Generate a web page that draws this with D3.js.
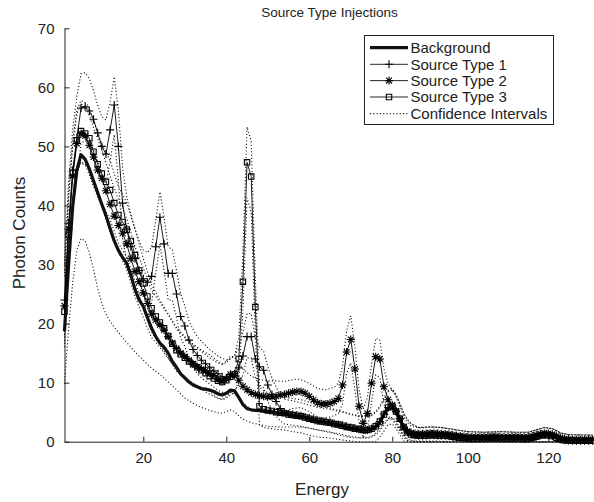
<!DOCTYPE html>
<html>
<head>
<meta charset="utf-8">
<script src="https://cdn.jsdelivr.net/npm/d3@7"></script>
<style>
    body { margin: 0; background: #fff; }
    text { font-family: "Liberation Sans", Arial, sans-serif; fill: #222; }
</style>
</head>
<body>
<div id="chart"></div>
<script>
// counts per energy bin, bins 1..85 for each curve
const backgroundHead = [18.7,30,40,46,48.6,47.8,46.2,44.2,42.2,40.2,
    38.3,36.1,34.0,32.4,31.2,30.2,28.2,25.8,24.0,22.9,
    21.0,19.2,17.8,16.7,16.0,15.0,13.6,12.6,11.5,10.8,
    10.1,9.6,9.3,9.0,8.9,8.75,8.5,8.1,7.9,8.2,
    8.75,8.6,7.5,6.3,5.6,5.4,5.3,5.25,5.2,5.15,
    5.05,4.9,4.8,4.7,4.55,4.4,4.3,4.2,4.0,3.8,
    3.6,3.45,3.35,3.25,3.1,2.95,2.8,2.65,2.45,2.3,
    2.15,2.0,1.95,1.95,2.1,2.5,3.3,4.6,5.7,5.9,
    5.0,3.8,2.4,1.5,1.1]
const source1Head = [24,37,46,51.5,56.5,56.7,56.0,54.6,52.3,50.0,
    48.7,52.8,57.0,50.0,40.4,36.0,33.0,31.0,29.0,27.6,
    27.0,28.0,33.0,38.0,33.5,28.5,28.5,25.0,21.2,19.6,
    17.2,15.6,14.6,13.8,13.2,12.6,12.0,11.5,11.0,10.8,
    11.0,11.5,12.5,14.5,17.8,17.8,14.0,12.7,12.1,9.6,
    8.0,6.8,5.6,5.0,4.7,4.6,4.5,4.4,4.2,4.0,
    3.8,3.6,3.5,3.4,3.3,3.1,2.9,2.8,2.6,2.4,
    2.3,2.1,2.0,2.0,2.2,2.6,3.4,4.7,5.8,6.0,
    5.1,3.9,2.5,1.6,1.2]
const source2Head = [23,36,45,50.5,52.2,51.8,50.2,48.2,46.0,44.6,
    42.5,40.2,38.2,36.6,35.3,33.5,31.0,28.8,27.1,25.2,
    23.4,21.6,20.6,19.8,18.9,17.8,16.7,15.8,15.0,14.4,
    13.8,13.2,12.7,12.3,12.0,11.6,11.2,10.5,10.2,10.6,
    11.4,11.2,10.4,9.4,8.8,8.3,8.0,7.8,7.7,7.6,
    7.6,7.7,7.9,8.0,8.2,8.4,8.5,8.5,8.2,7.7,
    7.1,6.6,6.4,6.4,6.5,6.8,7.3,9.6,15.2,17.3,
    12.3,6.0,3.1,4.8,9.9,14.4,14.0,9.3,7.1,6.2,
    5.2,3.9,2.5,1.8,1.5]
const source3Head = [22,35,45.5,51,52.6,52.2,51.4,49.1,47.0,45.4,
    44.0,42.6,40.4,38.4,37.2,35.9,34.0,31.6,29.0,26.8,
    24.6,22.6,21.2,20.2,19.2,17.9,16.6,15.5,14.8,14.2,
    13.6,13.1,12.6,12.1,11.6,11.1,10.7,10.3,10.1,10.4,
    11.0,11.4,14.0,27.1,47.3,44.9,22.8,6.0,5.5,5.3,
    5.2,5.0,4.9,4.8,4.6,4.5,4.4,4.3,4.1,3.9,
    3.7,3.5,3.4,3.3,3.2,3.0,2.9,2.7,2.5,2.4,
    2.2,2.1,2.0,2.0,2.2,2.6,3.4,4.6,5.8,6.0,
    5.1,3.9,2.5,1.6,1.2]
// bins 86..131: background, type 1 and type 3 share one tail, type 2 sits a little higher
const tailCounts = [1.1,1.0,1.0,1.05,1.1,1.1,1.05,1.0,1.0,0.95,
    0.85,0.75,0.65,0.6,0.55,0.5,0.5,0.5,0.55,0.55,
    0.6,0.6,0.55,0.5,0.5,0.55,0.55,0.5,0.45,0.5,
    0.65,0.85,1.05,1.15,1.1,0.95,0.65,0.4,0.25,0.2,
    0.15,0.15,0.15,0.15,0.15,0.15]
const tailCounts2 = [1.4,1.35,1.35,1.4,1.45,1.45,1.4,1.35,1.3,1.25,
    1.15,1.05,0.95,0.9,0.85,0.8,0.8,0.8,0.85,0.85,
    0.9,0.9,0.85,0.8,0.8,0.85,0.85,0.8,0.75,0.8,
    0.95,1.15,1.35,1.45,1.4,1.25,0.95,0.7,0.5,0.4,
    0.35,0.35,0.35,0.35,0.35,0.35]

// confidence bounds as [energy, count]
const backgroundLo = [[1,9.8],[2,19],[3,27],[4,32.5],[5,34.4],[6,34],[7,32],[8,29.2],[9,26],[10,23.4],[11,21.6],[12,20.4],[13,19.4],[14,18.5],[16,16.8],[18,15.2],[20,13.8],[22,12.4],[24,11.4],[26,10.1],[28,8.8],[30,7.4],[32,6.5],[34,5.8],[36,5.3],[38,4.9],[39,4.8],[40,5.1],[41,5.4],[42,5.1],[43,4.4],[44,3.8],[46,3.2],[48,2.9],[50,2.6],[53,2.5],[58,2.5],[60,2.3],[62,2.0],[64,1.7],[66,1.4],[68,1.0],[70,0.7],[72,0.6],[74,0.7],[75,0.9],[76,1.4],[77,2.2],[78,3.2],[79,3.9],[80,4.1],[81,3.5],[82,2.3],[83,1.2],[84,0.5],[85,0.2],[87,0.1]]
const source1Hi = [[1,30],[2,44],[3,53],[4,58.5],[5,62.3],[6,62.5],[7,61.5],[8,59.5],[9,57],[10,55],[11,54.5],[12,57.5],[13,61.8],[14,56],[15,46.5],[16,41.5],[17,38.5],[18,36],[19,34],[20,32.5],[21,32],[22,33],[23,37.5],[24,42.3],[25,38],[26,33],[27,32.5],[28,29],[29,25],[30,23],[31,20.5],[32,19],[33,17.8],[34,17],[36,15.6],[38,14.5],[40,13.8],[41,14],[42,14.6],[43,15.8],[44,18.5],[45,21.7],[46,21.7],[47,17.5],[48,16],[49,15.3],[50,12.7],[51,10.8],[52,9.3],[53,7.9],[54,7.2],[56,6.9],[58,6.6],[60,6.2],[62,5.8],[64,5.6],[66,5.3],[68,5.0],[70,4.6],[72,4.3],[74,4.2],[75,4.4],[76,4.9],[77,5.8],[78,7.2],[79,8.5],[80,8.8],[81,7.8],[82,6.4],[83,4.8],[84,3.7],[85,3.0],[87,2.4]]
const source1Lo = [[1,18],[2,30],[3,39],[4,45],[5,50.5],[6,51],[7,50.5],[8,49.5],[9,47.5],[10,45],[11,43.5],[12,47.5],[13,52],[14,44],[15,34.5],[16,30.5],[17,28],[18,26],[19,24.3],[20,23],[21,22.5],[22,23.5],[23,28.5],[24,33.5],[25,29],[26,24],[27,24],[28,21],[29,17.5],[30,16.2],[31,14],[32,12.5],[33,11.6],[34,10.8],[36,9.8],[38,8.7],[40,8.1],[41,8.3],[42,8.7],[43,9.6],[44,11.3],[45,14.2],[46,14.2],[47,10.8],[48,9.6],[49,9.1],[50,6.8],[51,5.4],[52,4.4],[53,3.5],[54,3.0],[56,2.8],[58,2.6],[60,2.3],[62,2.0],[64,1.8],[66,1.5],[68,1.2],[70,0.9],[72,0.7],[74,0.6],[75,0.8],[76,1.2],[77,1.8],[78,2.9],[79,3.8],[80,4.0],[81,3.2],[82,2.1],[83,1.0],[84,0.3],[85,0.1],[87,0]]
const source2Hi = [[1,29],[2,42],[3,50],[4,55.5],[5,57.2],[6,56.8],[7,55.2],[8,53.2],[10,49.4],[12,45],[14,41],[16,37.8],[18,33],[20,29.4],[22,25.6],[24,23.6],[26,21.5],[28,19.4],[30,17.8],[32,16.5],[34,15.5],[36,14.7],[38,13.6],[39,13.2],[40,13.6],[41,14.5],[42,14.3],[43,13.4],[44,12.3],[46,11.1],[48,10.5],[50,10.3],[52,10.3],[54,10.2],[56,10.5],[57,10.6],[58,10.5],[60,9.9],[62,9.0],[64,8.8],[66,9.2],[67,10],[68,12.8],[69,18.8],[70,21.3],[71,15.9],[72,8.8],[73,5.5],[74,7.5],[75,13.1],[76,17.5],[77,17.2],[78,12.3],[79,9.8],[80,8.7],[81,7.6],[82,6.0],[83,4.3],[84,3.2],[85,2.6],[87,2.3]]
const source2Lo = [[1,17],[2,30],[3,40],[4,45.5],[5,47.2],[6,46.8],[7,45.2],[8,43.2],[10,39.8],[12,35.4],[14,32.2],[16,29.2],[18,24.6],[20,21],[22,17.6],[24,16],[26,14.1],[28,12.2],[30,11],[32,9.9],[34,9.1],[36,8.5],[38,7.4],[39,7.2],[40,7.6],[41,8.3],[42,8.1],[43,7.4],[44,6.5],[46,5.5],[48,5.1],[50,4.9],[52,5.0],[54,5.2],[56,5.6],[58,5.8],[60,5.1],[62,4.2],[64,4.0],[66,4.4],[67,4.8],[68,6.4],[69,11.6],[70,13.3],[71,8.7],[72,3.2],[73,0.7],[74,2.1],[75,6.7],[76,11.3],[77,10.8],[78,6.3],[79,4.4],[80,3.7],[81,2.8],[82,1.8],[83,0.7],[84,0.2],[85,0],[87,0]]
const source3Hi = [[1,28],[2,41],[3,51],[4,56.3],[5,57.8],[6,57.4],[7,56.6],[8,54.3],[10,50.4],[12,47.6],[14,43.2],[16,40.5],[18,36],[20,31],[22,26.6],[24,24],[26,21.6],[28,19.1],[30,17.6],[32,16.4],[34,15.3],[36,14.2],[38,13.3],[39,13.1],[40,13.4],[41,14.1],[42,14.5],[43,17.6],[44,32],[45,53.3],[46,50.9],[47,27.6],[48,9.2],[49,8.6],[50,8.3],[52,7.9],[54,7.6],[56,7.3],[58,7.1],[60,6.7],[62,6.2],[64,5.9],[66,5.5],[68,5.1],[70,4.7],[72,4.4],[74,4.3],[75,4.6],[76,5.1],[77,6.0],[78,7.4],[79,8.7],[80,9.0],[81,8.0],[82,6.6],[83,4.9],[84,3.8],[85,3.0],[87,2.4]]
const source3Lo = [[1,16],[2,29],[3,40],[4,45.7],[5,47.4],[6,47],[7,46.2],[8,43.9],[10,40.4],[12,37.6],[14,33.6],[16,31.3],[18,27.2],[20,22.6],[22,18.6],[24,16.4],[26,14.2],[28,11.9],[30,10.8],[32,9.8],[34,8.9],[36,8.0],[38,7.3],[39,7.1],[40,7.4],[41,7.9],[42,8.3],[43,10.4],[44,22.2],[45,41.3],[46,38.9],[47,18],[48,2.8],[49,2.4],[50,2.3],[52,2.1],[54,2.0],[56,1.7],[58,1.5],[60,1.1],[62,0.8],[64,0.7],[66,0.5],[68,0.3],[70,0.1],[72,0],[76,0],[77,0.8],[78,1.8],[79,2.9],[80,3.0],[81,2.2],[82,1.2],[83,0.1],[84,0],[87,0]]
const tailHi = [[87,2.4],[90,2.5],[93,2.4],[96,2.1],[100,1.7],[104,1.6],[108,1.7],[112,1.6],[115,1.6],[117,2.0],[119,2.4],[121,2.2],[123,1.5],[125,1.2],[131,1.1]]
const tailLo = [[87,0],[131,0]]

const xTicks = [20, 40, 60, 80, 100, 120]
const yTicks = [0, 10, 20, 30, 40, 50, 60, 70]
const legendLabels = ["Background", "Source Type 1", "Source Type 2", "Source Type 3", "Confidence Intervals"]

const energies = d3.range(1, 132)
const background = backgroundHead.concat(tailCounts)
const source1 = source1Head.concat(tailCounts)
const source2 = source2Head.concat(tailCounts2)
const source3 = source3Head.concat(tailCounts)

let svg = d3.select("#chart").append("svg")
    .attr("width", 594)
    .attr("height", 502)

// the picture's x axis is not quite uniform past 80, so the scale follows its ticks
let xScale = d3.scaleLinear().domain([1, 80, 100, 120, 131]).range([64.45, 392.3, 467.8, 548.3, 592.6])
let yScale = d3.scaleLinear().domain([0, 70]).range([441.7, 28.3])

svg.append("g")
    .attr("transform", "translate(0,441.7)")
    .style("font-size", "15px")
    .call(d3.axisBottom(xScale).tickValues(xTicks).tickSize(-5).tickSizeOuter(0).tickPadding(11))
svg.append("g")
    .attr("transform", "translate(64.5,0)")
    .style("font-size", "15px")
    .call(d3.axisLeft(yScale).tickValues(yTicks).tickSize(-5).tickSizeOuter(0).tickPadding(10))
svg.selectAll(".domain, .tick line").attr("stroke", "#222")
svg.selectAll(".tick text").style("fill", "#222").style("font-family", "Liberation Sans, Arial, sans-serif")

let line = d3.line()
    .x(d => xScale(d[0]))
    .y(d => yScale(d[1]))

let plot = svg.append("g")

function pairs(values){
    return energies.map((e, i) => [e, values[i]])
}

const plusPath = "M-4,0H4M0,-4V4"
const starPath = "M-4,0H4M0,-4V4M-2.9,-2.9L2.9,2.9M-2.9,2.9L2.9,-2.9"
const squarePath = "M-2.7,-2.7H2.7V2.7H-2.7Z"

plot.append("path")
    .datum(pairs(background))
    .attr("d", line)
    .style("fill", "none")
    .style("stroke", "#111")
    .style("stroke-width", 3.2)
    .style("stroke-linejoin", "round")

let sources = [[source1, plusPath], [source2, starPath], [source3, squarePath]]
for (let i = 0; i < sources.length; i++){
    let pts = pairs(sources[i][0])
    plot.append("path")
        .datum(pts)
        .attr("d", line)
        .style("fill", "none")
        .style("stroke", "#000")
        .style("stroke-width", 0.9)
    plot.append("g")
        .selectAll("path")
        .data(pts)
        .enter()
        .append("path")
        .attr("transform", d => "translate(" + xScale(d[0]) + "," + yScale(d[1]) + ")")
        .attr("d", sources[i][1])
        .style("fill", "none")
        .style("stroke", "#000")
        .style("stroke-width", 1.1)
}

let bounds = [backgroundLo.concat(tailLo.slice(1)),
    source1Hi.concat(tailHi.slice(1)), source1Lo.concat(tailLo.slice(1)),
    source2Hi.concat(tailHi.slice(1)), source2Lo.concat(tailLo.slice(1)),
    source3Hi.concat(tailHi.slice(1)), source3Lo.concat(tailLo.slice(1))]
for (let i = 0; i < bounds.length; i++){
    plot.append("path")
        .datum(bounds[i])
        .attr("d", line)
        .style("fill", "none")
        .style("stroke", "#111")
        .style("stroke-width", 1.1)
        .style("stroke-dasharray", "1.1,2.2")
}

// legend
let legend = svg.append("g")
legend.append("rect")
    .attr("x", 364.5).attr("y", 35.5)
    .attr("width", 189).attr("height", 89)
    .style("fill", "#fff")
    .style("stroke", "#222")
    .style("stroke-width", 1)
let rowY = [47.7, 64.3, 80.6, 97, 113.6]
let markers = [null, plusPath, starPath, squarePath, null]
for (let i = 0; i < legendLabels.length; i++){
    let sample = legend.append("line")
        .attr("x1", 370).attr("x2", 408)
        .attr("y1", rowY[i]).attr("y2", rowY[i])
        .style("stroke", "#111")
        .style("stroke-width", i === 0 ? 3.2 : 0.9)
    if (i === 4){
        sample.style("stroke-width", 1.1).style("stroke-dasharray", "1.1,2.2")
    }
    if (markers[i]){
        legend.append("path")
            .attr("transform", "translate(389," + rowY[i] + ")")
            .attr("d", markers[i])
            .style("fill", "none")
            .style("stroke", "#000")
            .style("stroke-width", 1.1)
    }
    legend.append("text")
        .attr("x", 410.5)
        .attr("y", rowY[i])
        .attr("dy", "0.35em")
        .style("font-size", "15px")
        .text(legendLabels[i])
}

svg.append("text")
    .attr("x", 329.5).attr("y", 17)
    .attr("text-anchor", "middle")
    .style("font-size", "13.5px")
    .text("Source Type Injections")
svg.append("text")
    .attr("x", 322).attr("y", 495)
    .attr("text-anchor", "middle")
    .style("font-size", "17px")
    .text("Energy")
svg.append("text")
    .attr("transform", "translate(25,233)rotate(-90)")
    .attr("text-anchor", "middle")
    .style("font-size", "17px")
    .text("Photon Counts")
</script>
</body>
</html>
